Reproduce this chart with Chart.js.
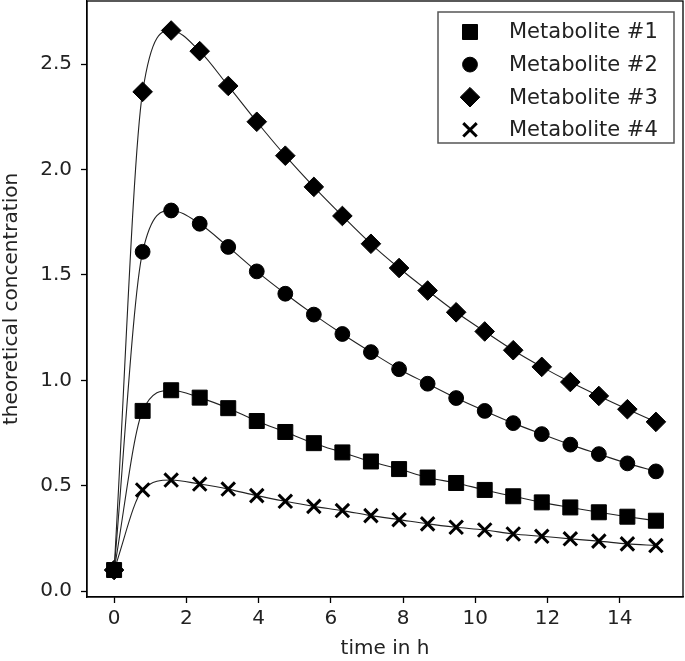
<!DOCTYPE html>
<html>
<head>
<meta charset="utf-8">
<script src="https://cdn.jsdelivr.net/npm/chart.js@4.4.0/dist/chart.umd.min.js"></script>
<style>
html, body { margin: 0; padding: 0; background: #fff; }
#wrap { width: 685px; height: 661px; }
</style>
</head>
<body>
<div id="wrap"><canvas id="chart" width="685" height="661"></canvas></div>
<script>
// Datos
const timeH = [0, 0.79, 1.58, 2.37, 3.16, 3.95, 4.74, 5.53, 6.32, 7.11, 7.89, 8.68, 9.47, 10.26, 11.05, 11.84, 12.63, 13.42, 14.21, 15];
const metabolite1 = [0.10, 0.855, 0.953, 0.918, 0.868, 0.807, 0.755, 0.702, 0.658, 0.615, 0.579, 0.539, 0.513, 0.480, 0.450, 0.421, 0.397, 0.374, 0.353, 0.334];
const metabolite2 = [0.10, 1.61, 1.806, 1.743, 1.633, 1.517, 1.411, 1.312, 1.220, 1.134, 1.053, 0.984, 0.916, 0.855, 0.797, 0.745, 0.695, 0.650, 0.606, 0.568];
const metabolite3 = [0.10, 2.369, 2.660, 2.562, 2.397, 2.227, 2.066, 1.918, 1.780, 1.648, 1.533, 1.426, 1.323, 1.232, 1.143, 1.064, 0.992, 0.926, 0.863, 0.803];
const metabolite4 = [0.10, 0.480, 0.527, 0.508, 0.484, 0.453, 0.426, 0.402, 0.382, 0.358, 0.339, 0.319, 0.303, 0.290, 0.271, 0.260, 0.248, 0.237, 0.224, 0.216];
const seriesLabels = ['Metabolite #1', 'Metabolite #2', 'Metabolite #3', 'Metabolite #4'];
const xTicks = [0, 2, 4, 6, 8, 10, 12, 14];
const yTicks = [0.0, 0.5, 1.0, 1.5, 2.0, 2.5];

const FONT = 'DejaVu Sans';
const pts = (ys) => timeH.map((x, i) => ({ x: x, y: ys[i] }));

// Estilo de cada serie
function serie(label, ys, style, radius, bw) {
    return {
        label: label,
        data: pts(ys),
        showLine: true,
        cubicInterpolationMode: 'monotone',
        borderColor: '#222',
        borderWidth: 1.1,
        pointStyle: style,
        pointRadius: radius,
        pointHoverRadius: radius,
        pointBackgroundColor: '#000',
        pointBorderColor: '#000',
        pointBorderWidth: bw
    };
}

// Marco completo del área
const framePlugin = {
    id: 'frame',
    afterDraw(chart) {
        const a = chart.chartArea, ctx = chart.ctx;
        ctx.save();
        ctx.strokeStyle = '#000';
        ctx.lineWidth = 1.3;
        ctx.strokeRect(a.left, a.top, a.right - a.left, a.bottom - a.top);
        ctx.restore();
    }
};

// Leyenda dentro del gráfico
const legendPlugin = {
    id: 'boxLegend',
    afterDraw(chart) {
        const ctx = chart.ctx;
        const bx = 438, by = 12, bw = 236, bh = 131;
        ctx.save();
        ctx.fillStyle = '#fff';
        ctx.fillRect(bx, by, bw, bh);
        ctx.strokeStyle = '#555';
        ctx.lineWidth = 1.5;
        ctx.strokeRect(bx, by, bw, bh);
        ctx.font = '21px "' + FONT + '"';
        ctx.textBaseline = 'middle';
        ctx.textAlign = 'left';
        chart.data.datasets.forEach((ds, i) => {
            const y = 32 + i * 32.6;
            ctx.fillStyle = '#000';
            ctx.strokeStyle = '#000';
            ctx.lineWidth = ds.pointBorderWidth;
            Chart.helpers.drawPoint(ctx, {
                pointStyle: ds.pointStyle,
                radius: ds.pointRadius,
                rotation: 0,
                borderWidth: ds.pointBorderWidth
            }, 470, y);
            ctx.fillStyle = '#222';
            ctx.fillText(ds.label, 509, y + 1);
        });
        ctx.restore();
    }
};

const chart = new Chart(document.getElementById('chart').getContext('2d'), {
    type: 'scatter',
    data: {
        datasets: [
            serie(seriesLabels[0], metabolite1, 'rect', 10.6, 1),
            serie(seriesLabels[1], metabolite2, 'circle', 7.4, 1),
            serie(seriesLabels[2], metabolite3, 'rectRot', 9.8, 1),
            serie(seriesLabels[3], metabolite4, 'crossRot', 9.5, 3)
        ]
    },
    options: {
        responsive: false,
        animation: false,
        devicePixelRatio: 1,
        layout: { autoPadding: false, padding: { top: 1, right: 2, left: 0, bottom: 0 } },
        plugins: {
            legend: { display: false },
            tooltip: { enabled: false }
        },
        scales: {
            x: {
                type: 'linear',
                min: -0.75,
                max: 15.75,
                afterBuildTicks: axis => { axis.ticks = xTicks.map(v => ({ value: v })); },
                afterFit: scale => {
                    scale.height = 64;
                    scale.paddingLeft = 0;
                    scale.paddingRight = 0;
                },
                ticks: {
                    font: { family: FONT, size: 20 },
                    color: '#222',
                    padding: 4,
                    maxRotation: 0,
                    callback: v => String(v)
                },
                grid: { drawOnChartArea: false, drawTicks: true, tickLength: 6, tickColor: '#000', tickWidth: 1.3 },
                border: { display: true, color: '#000', width: 1.3 },
                title: {
                    display: true,
                    text: 'time in h',
                    font: { family: FONT, size: 20 },
                    color: '#222',
                    padding: { top: 2, bottom: 0 }
                }
            },
            y: {
                type: 'linear',
                min: -0.028,
                max: 2.80,
                afterBuildTicks: axis => { axis.ticks = yTicks.map(v => ({ value: v })); },
                afterFit: scale => {
                    scale.width = 87;
                    scale.paddingTop = 0;
                    scale.paddingBottom = 0;
                },
                ticks: {
                    font: { family: FONT, size: 20 },
                    color: '#222',
                    padding: 9,
                    callback: v => v.toFixed(1)
                },
                grid: { drawOnChartArea: false, drawTicks: true, tickLength: 6, tickColor: '#000', tickWidth: 1.3 },
                border: { display: true, color: '#000', width: 1.3 },
                title: {
                    display: true,
                    text: 'theoretical concentration',
                    font: { family: FONT, size: 20 },
                    color: '#222',
                    padding: { top: 0, bottom: 0 }
                }
            }
        }
    },
    plugins: [framePlugin, legendPlugin]
});
</script>
</body>
</html>
